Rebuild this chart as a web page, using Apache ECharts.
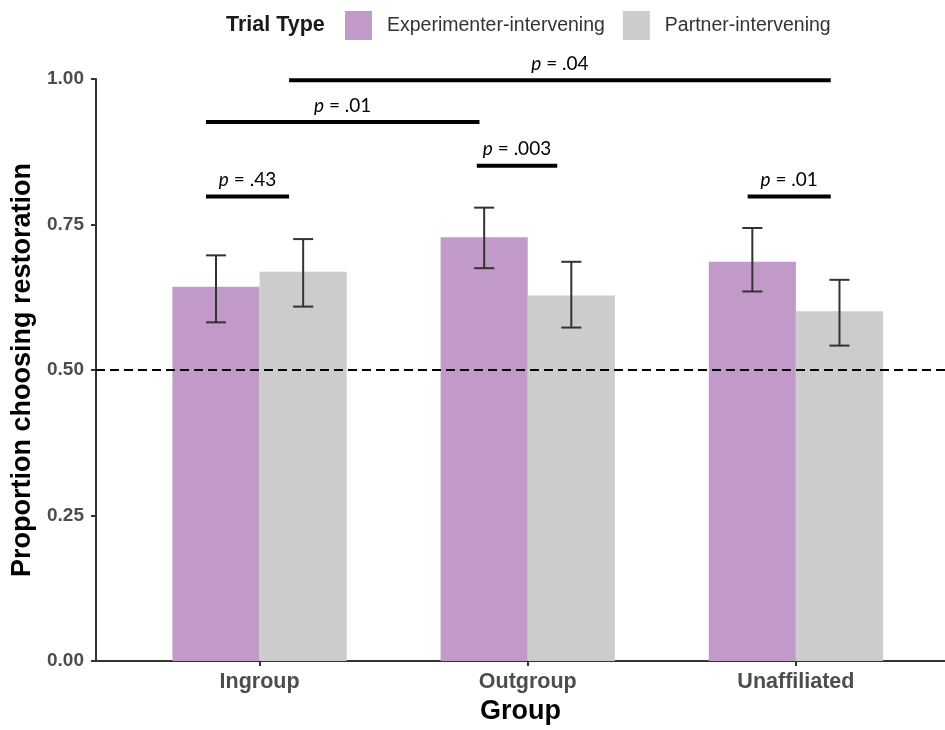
<!DOCTYPE html>
<html>
<head>
<meta charset="utf-8">
<script src="https://cdn.jsdelivr.net/npm/echarts@6/dist/echarts.min.js"></script>
<style>html,body{margin:0;padding:0;background:#fff}#c{width:945px;height:730px}</style>
</head>
<body>
<div id="c"></div>
<script>
// ---- data ----
const categories = ['Ingroup', 'Outgroup', 'Unaffiliated'];
const seriesNames = ['Experimenter-intervening', 'Partner-intervening'];
const experimenter = [0.643, 0.728, 0.686];
const experimenterLo = [0.582, 0.675, 0.635];
const experimenterHi = [0.697, 0.779, 0.744];
const partner = [0.669, 0.628, 0.601];
const partnerLo = [0.609, 0.573, 0.542];
const partnerHi = [0.725, 0.686, 0.655];
const yTicks = [0, 0.25, 0.5, 0.75, 1];
const chanceLevel = 0.5;
// significance annotations
const pLabels = ['.43', '.003', '.01', '.01', '.04'];
const pFrom = [0.80, 1.81, 2.82, 0.80, 1.11];
const pTo = [1.11, 2.11, 3.13, 1.82, 3.13];
const pLevel = [0.798, 0.851, 0.798, 0.926, 0.998];

// ---- styles ----
const PURPLE = '#C29ACA';
const GRAY = '#CCCCCC';
const BW = 0.325;   // bar width in axis units
const CAP = 0.075;  // error bar cap width in axis units

function barRenderer(offset, color) {
  return function (params, api) {
    const x = api.value(0) + offset;
    const v = api.value(1), lo = api.value(2), hi = api.value(3);
    const p0 = api.coord([x - BW / 2, 0]);
    const p1 = api.coord([x + BW / 2, v]);
    const pl = api.coord([x, lo]);
    const ph = api.coord([x, hi]);
    const half = api.size([CAP, 0])[0] / 2;
    const ls = { stroke: '#333333', lineWidth: 2 };
    return {
      type: 'group',
      children: [
        { type: 'rect', shape: { x: p0[0], y: p1[1], width: p1[0] - p0[0], height: p0[1] - p1[1] }, style: { fill: color }, z2: 1 },
        { type: 'line', shape: { x1: pl[0], y1: pl[1], x2: ph[0], y2: ph[1] }, style: ls, z2: 5 },
        { type: 'line', shape: { x1: pl[0] - half, y1: pl[1], x2: pl[0] + half, y2: pl[1] }, style: ls, z2: 5 },
        { type: 'line', shape: { x1: ph[0] - half, y1: ph[1], x2: ph[0] + half, y2: ph[1] }, style: ls, z2: 5 }
      ]
    };
  };
}

function bracketRenderer(params, api) {
  const a = api.coord([api.value(0), api.value(2)]);
  const b = api.coord([api.value(1), api.value(2)]);
  const label = pLabels[params.dataIndex];
  return {
    type: 'group',
    children: [
      { type: 'line', shape: { x1: a[0], y1: a[1], x2: b[0], y2: a[1] }, style: { stroke: '#000', lineWidth: 4 } },
      {
        type: 'text',
        style: {
          x: (a[0] + b[0]) / 2, y: a[1] - 7,
          text: '{i|p} = ' + label,
          align: 'center', verticalAlign: 'bottom',
          rich: {
            i: { fontStyle: 'italic', fontFamily: 'Lato', fontSize: 19, fill: '#000' }
          },
          fontFamily: 'Lato', fontSize: 19, fill: '#000'
        }
      }
    ]
  };
}

const chart = echarts.init(document.getElementById('c'), null, { renderer: 'canvas' });
chart.setOption({
  backgroundColor: '#fff',
  animation: false,
  title: {
    text: 'Trial Type', left: 221, top: 9,
    textStyle: { fontFamily: 'Liberation Sans', fontWeight: 'bold', fontSize: 21.5, color: '#1a1a1a' }
  },
  legend: {
    data: seriesNames,
    left: 340, top: 6,
    icon: 'rect',
    itemWidth: 27, itemHeight: 29, itemGap: 18,
    textStyle: { fontFamily: 'Liberation Sans', fontSize: 19.5, color: '#333', padding: [0, 0, 0, 10] }
  },
  grid: { left: 96, right: 0, top: 79, bottom: 66 },
  xAxis: {
    type: 'value', min: 0.39, max: 3.556,
    name: 'Group', nameLocation: 'middle', nameGap: 36,
    nameTextStyle: { fontFamily: 'Liberation Sans', fontWeight: 'bold', fontSize: 27, color: '#000', verticalAlign: 'top' },
    axisLine: { show: true, lineStyle: { color: '#333', width: 2 } },
    axisTick: { show: true, customValues: [1, 2, 3], length: 5, lineStyle: { color: '#333', width: 2 } },
    axisLabel: {
      customValues: [1, 2, 3], margin: 10,
      formatter: v => categories[Math.round(v) - 1],
      fontFamily: 'Liberation Sans', fontWeight: 'bold', fontSize: 21.5, color: '#4D4D4D'
    },
    splitLine: { show: false }
  },
  yAxis: {
    type: 'value', min: 0, max: 1, interval: 0.25,
    name: 'Proportion choosing restoration', nameLocation: 'middle', nameGap: 52, nameRotate: 90,
    nameTextStyle: { fontFamily: 'Liberation Sans', fontWeight: 'bold', fontSize: 27, color: '#000' },
    axisLine: { show: true, lineStyle: { color: '#333', width: 2 } },
    axisTick: { show: true, length: 5, lineStyle: { color: '#333', width: 2 } },
    axisLabel: {
      margin: 12,
      formatter: v => yTicks.includes(v) ? v.toFixed(2) : '',
      fontFamily: 'Liberation Sans', fontWeight: 'bold', fontSize: 19, color: '#4D4D4D'
    },
    splitLine: { show: false }
  },
  series: [
    {
      name: seriesNames[0], type: 'custom', z: 2, clip: false,
      itemStyle: { color: PURPLE },
      renderItem: barRenderer(-BW / 2, PURPLE),
      encode: { x: 0, y: 1 },
      data: categories.map((c, i) => [i + 1, experimenter[i], experimenterLo[i], experimenterHi[i]])
    },
    {
      name: seriesNames[1], type: 'custom', z: 2, clip: false,
      itemStyle: { color: GRAY },
      renderItem: barRenderer(BW / 2, GRAY),
      encode: { x: 0, y: 1 },
      data: categories.map((c, i) => [i + 1, partner[i], partnerLo[i], partnerHi[i]])
    },
    {
      name: 'brackets', type: 'custom', z: 4, clip: false,
      renderItem: bracketRenderer,
      encode: { x: [0, 1], y: 2 },
      data: pLabels.map((l, i) => [pFrom[i], pTo[i], pLevel[i]]),
      markLine: {
        silent: true, symbol: 'none', z: 3,
        label: { show: false },
        lineStyle: { color: '#000', width: 2, type: [9, 5] },
        data: [{ yAxis: chanceLevel }]
      }
    }
  ]
});
</script>
</body>
</html>
